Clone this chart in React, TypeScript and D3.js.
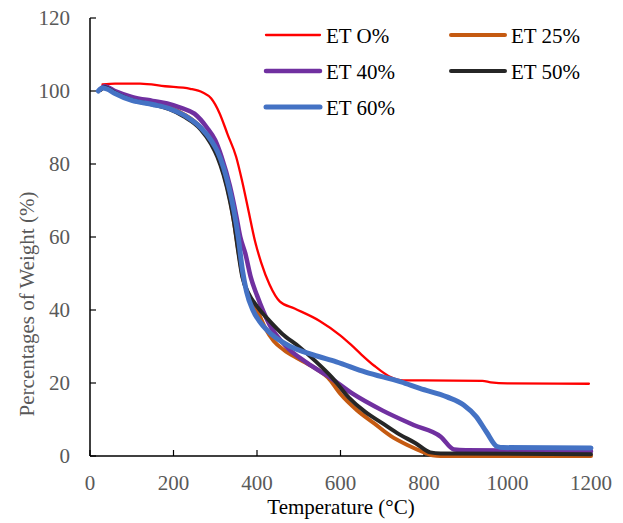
import React from "react";
import * as d3 from "d3";

const xTicks = [0, 200, 400, 600, 800, 1000, 1200];
const yTicks = [0, 20, 40, 60, 80, 100, 120];

const seriesNames = ["ET O%", "ET 25%", "ET 40%", "ET 50%", "ET 60%"];
const seriesColors = ["#FF0000", "#C55A11", "#7030A0", "#262626", "#4472C4"];
const seriesWidths = [2.3, 4, 4.5, 4, 5];

const et0: [number, number][] = [
  [30, 101.8], [60, 102], [120, 102], [180, 101.3], [240, 100.6], [270, 99.6], [290, 98],
  [310, 94], [330, 88], [350, 82], [365, 75], [380, 67], [395, 59], [410, 53], [430, 47],
  [455, 42.3], [490, 40.4], [550, 37], [600, 33], [625, 30.5], [650, 27.8], [680, 24.8],
  [720, 21.6], [750, 20.7], [800, 20.7], [940, 20.6], [960, 20.2], [1000, 19.9], [1195, 19.8],
];
const et25: [number, number][] = [
  [25, 100.5], [35, 101.2], [60, 99.6], [100, 97.8], [150, 96.6], [190, 95.5], [225, 93.6],
  [265, 90], [290, 86], [305, 82.5], [320, 77.5], [335, 70.5], [345, 64], [355, 56.5],
  [365, 49.5], [380, 44], [400, 40], [420, 35], [440, 31.5], [465, 29], [500, 26.6],
  [540, 24], [570, 21.5], [600, 17], [640, 12.5], [680, 9], [720, 5.5], [760, 3],
  [800, 1], [820, 0.2], [840, 0], [1200, 0],
];
const et40: [number, number][] = [
  [25, 100.5], [35, 101.3], [60, 100], [100, 98.4], [150, 97.3], [185, 96.6], [220, 95.3],
  [250, 93.8], [280, 90], [300, 86.5], [315, 82], [335, 74], [350, 66], [360, 60],
  [372, 55.5], [385, 49], [400, 44], [430, 36], [470, 30], [520, 25.5], [575, 21.5],
  [630, 17], [700, 12.5], [775, 8.5], [840, 5.3], [872, 1.8], [900, 1.6], [1200, 1.3],
];
const et50: [number, number][] = [
  [25, 100.3], [35, 101], [60, 99.5], [100, 97.5], [150, 96.3], [190, 95], [225, 93],
  [265, 89.5], [290, 85.5], [305, 82], [320, 77], [335, 70], [345, 64], [355, 56],
  [365, 49], [380, 44.5], [400, 41], [430, 37], [460, 33.5], [500, 30], [540, 26],
  [580, 21.5], [620, 16], [660, 12], [700, 9], [740, 6], [780, 3.5], [815, 1],
  [840, 0.7], [1200, 0.5],
];
const et60: [number, number][] = [
  [20, 100], [30, 100.8], [40, 100.6], [60, 99.3], [100, 97.4], [150, 96.3], [190, 95.2],
  [225, 93.4], [265, 90], [290, 86.5], [305, 83.5], [320, 79], [335, 72.5], [345, 67],
  [355, 60], [365, 51], [375, 45], [390, 40], [410, 36.3], [435, 33.3], [480, 30],
  [535, 27.7], [590, 25.8], [660, 23], [745, 20.3], [790, 18.5], [855, 16.2], [895, 14],
  [925, 10.8], [950, 6.5], [975, 2.6], [990, 2.3], [1200, 2.2],
];

const seriesData = [et0, et25, et40, et50, et60];

const FONT = "'Liberation Serif', 'Times New Roman', serif";

export default function App() {
  const x = d3.scaleLinear().domain([0, 1200]).range([90, 591]);
  const y = d3.scaleLinear().domain([0, 120]).range([456, 18]);
  const line = d3
    .line<[number, number]>()
    .x((d) => x(d[0]))
    .y((d) => y(d[1]))
    .curve(d3.curveMonotoneX);

  const legendPos = [
    [266, 35],
    [451, 35],
    [266, 71],
    [451, 71],
    [266, 107],
  ];

  return (
    <svg
      width={623}
      height={523}
      style={{ position: "absolute", left: 0, top: 0, background: "#fff" }}
      fontFamily={FONT}
    >
      <rect x={0} y={0} width={623} height={523} fill="#fff" />
      {/* axes */}
      <line x1={x(0)} x2={x(0)} y1={y(120)} y2={y(0)} stroke="#000" strokeWidth={1.5} />
      <line x1={x(0)} x2={x(1200)} y1={y(0)} y2={y(0)} stroke="#000" strokeWidth={1.5} />
      {yTicks.map((t) => (
        <g key={"y" + t}>
          <line x1={x(0)} x2={x(0) + 6} y1={y(t)} y2={y(t)} stroke="#000" strokeWidth={1.2} />
          <text x={70} y={y(t) + 7} textAnchor="end" fontSize={21} fill="#595959">
            {t}
          </text>
        </g>
      ))}
      {xTicks.map((t) => (
        <g key={"x" + t}>
          <line x1={x(t)} x2={x(t)} y1={y(0)} y2={y(0) - 6} stroke="#000" strokeWidth={1.2} />
          <text x={x(t)} y={490} textAnchor="middle" fontSize={21} fill="#595959">
            {t}
          </text>
        </g>
      ))}
      <text x={341} y={514} textAnchor="middle" fontSize={21} fill="#000">
        Temperature (°C)
      </text>
      <text
        transform={`translate(34, 304) rotate(-90)`}
        textAnchor="middle"
        fontSize={21}
        fill="#595959"
      >
        Percentages of Weight (%)
      </text>
      {/* series */}
      {seriesData.map((d, i) => (
        <path
          key={seriesNames[i]}
          d={line(d) || ""}
          fill="none"
          stroke={seriesColors[i]}
          strokeWidth={seriesWidths[i]}
          strokeLinejoin="round"
          strokeLinecap="round"
        />
      ))}
      {/* legend */}
      {seriesNames.map((n, i) => (
        <g key={"lg" + n}>
          <line
            x1={legendPos[i][0]}
            x2={legendPos[i][0] + 54}
            y1={legendPos[i][1]}
            y2={legendPos[i][1]}
            stroke={seriesColors[i]}
            strokeWidth={seriesWidths[i]}
            strokeLinecap="round"
          />
          <text x={legendPos[i][0] + 60} y={legendPos[i][1] + 8} fontSize={21} fill="#000">
            {n}
          </text>
        </g>
      ))}
    </svg>
  );
}
